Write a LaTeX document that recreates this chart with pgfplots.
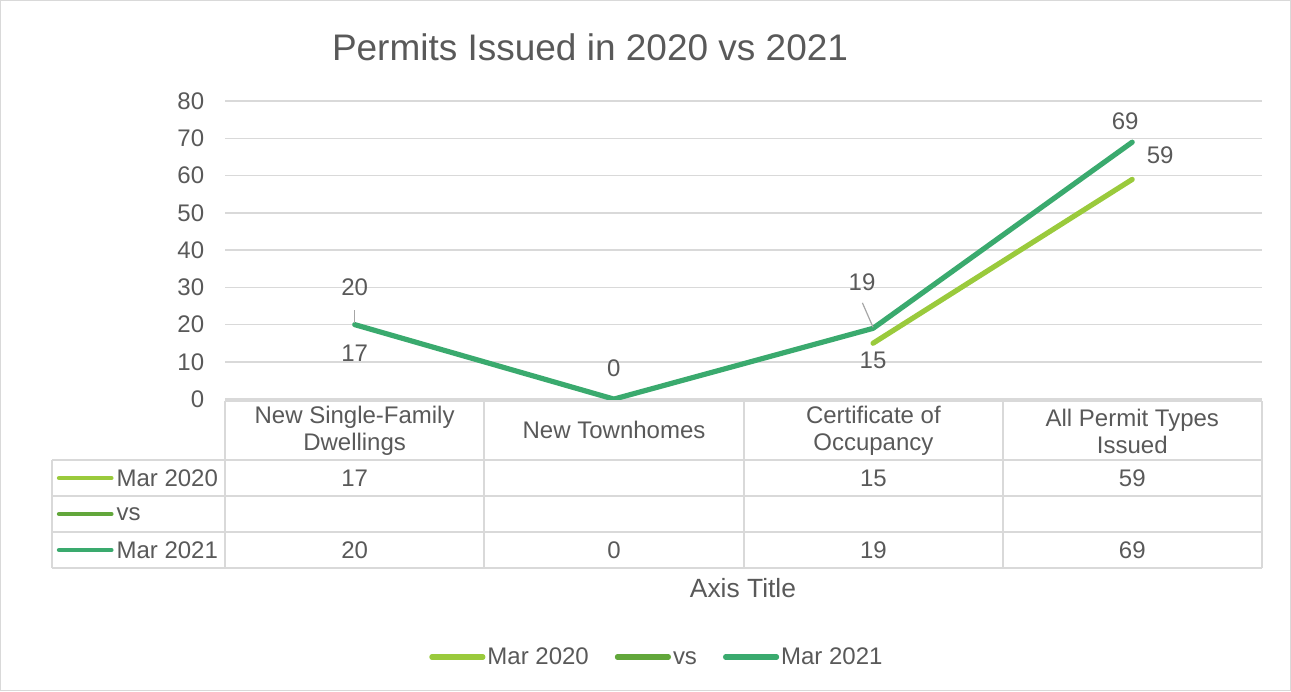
\documentclass[border=0pt]{standalone}
\usepackage{pgfplots}
\pgfplotsset{compat=1.18}
\usepackage{fontspec}
\setmainfont{Liberation Sans}
\definecolor{txt}{HTML}{595959}
\definecolor{gridc}{HTML}{D9D9D9}
\definecolor{cA}{HTML}{9ACA3C}
\definecolor{cB}{HTML}{62A73B}
\definecolor{cC}{HTML}{3AAA6E}

\begin{document}
\begin{tikzpicture}[font=\fontsize{12}{13.5}\selectfont, text=txt]
\begin{axis}[
  at={(0,0)}, anchor=south west,
  scale only axis, width=518.5pt, height=149pt,
  xmin=-0.5, xmax=3.5, ymin=0, ymax=80,
  xtick=\empty, ytick={0,10,...,80},
  ymajorgrids, grid style={gridc, line width=0.75pt},
  axis line style={draw=none}, major tick length=0pt,
  yticklabel style={text=txt, anchor=east, xshift=-7pt},
  /pgf/number format/assume math mode=true,
  clip=false, unbounded coords=jump,
  legend columns=3,
  legend style={at={(0.4165,-0.8658)}, anchor=center, draw=none, fill=none,
    text=txt, nodes={inner xsep=1pt, text height=1.7ex, text depth=0.3ex},
    /tikz/every even column/.append style={column sep=12pt}},
  legend image code/.code={\draw[#1, line cap=round] (0pt,0pt) -- (25.5pt,0pt);},
  every node near coord/.append style={text=txt, anchor=center,
    xshift=\dx pt, yshift=\dy pt},
]
\addplot[cA, line width=2.6pt, line cap=round, line join=round,
  nodes near coords, point meta=explicit,
  visualization depends on={\thisrow{dx}\as\dx},
  visualization depends on={\thisrow{dy}\as\dy}]
  table[x=x, y=y, meta=y] {
x y dx dy
0 17 0 -8.5
1 nan 0 0
2 15 0 -8.5
3 59 14 12
};
\addlegendentry{Mar 2020}
\addlegendimage{cB, line width=2.6pt}
\addlegendentry{vs}
\addplot[cC, line width=2.6pt, line cap=round, line join=round,
  nodes near coords, point meta=explicit,
  visualization depends on={\thisrow{dx}\as\dx},
  visualization depends on={\thisrow{dy}\as\dy}]
  table[x=x, y=y, meta=y] {
x y dx dy
0 20 0 18.5
1 0 0 15.5
2 19 -5.5 23
3 69 -3.5 10.5
};
\addlegendentry{Mar 2021}
% leader lines of the labels
\draw[gray!70, line width=0.6pt] (axis cs:0,23.9) -- (axis cs:0,20.4);
\draw[gray!70, line width=0.6pt] (axis cs:1.959,25.85) -- (axis cs:2,19.3);
\end{axis}

\begin{scope}[shift={(-112.5pt,199.5pt)}, x=0.5pt, y=-0.5pt]
\draw[gridc, line width=0.75pt] (0.5,0.5) rectangle (1290.5,690.5);
% data table
\draw[gridc, line width=1pt]
  (225,401) -- (1262,401)
  (52,460) -- (1262,460)
  (52,496) -- (1262,496)
  (52,532) -- (1262,532)
  (52,568) -- (1262,568)
  (52,460) -- (52,568)
  (225,401) -- (225,568)
  (484,401) -- (484,568)
  (744,401) -- (744,568)
  (1003,401) -- (1003,568)
  (1262,401) -- (1262,568);
\draw[cA, line width=2.4pt, line cap=round] (59,478) -- (111,478);
\draw[cB, line width=2.4pt, line cap=round] (59,514) -- (111,514);
\draw[cC, line width=2.4pt, line cap=round] (59,550) -- (111,550);
\node[anchor=west, inner sep=0pt] at (116,478) {Mar 2020};
\node[anchor=west, inner sep=0pt] at (116,514) {vs};
\node[anchor=west, inner sep=0pt] at (116,550) {Mar 2021};
\node[align=center] at (354.5,431) {New Single-Family\\Dwellings};
\node at (614,430) {New Townhomes};
\node[align=center] at (873.5,431) {Certificate of\\Occupancy};
\node[align=center] at (1132.5,431) {All Permit Types\\Issued};
\node at (354.5,478) {17};
\node at (873.5,478) {15};
\node at (1132.5,478) {59};
\node at (354.5,550) {20};
\node at (614,550) {0};
\node at (873.5,550) {19};
\node at (1132.5,550) {69};
% titles
\node[font=\fontsize{18.5}{22}\selectfont] at (590,47) {Permits Issued in 2020 vs 2021};
\node[font=\fontsize{13.2}{16}\selectfont] at (743,588) {Axis Title};
\end{scope}
\end{tikzpicture}
\end{document}
